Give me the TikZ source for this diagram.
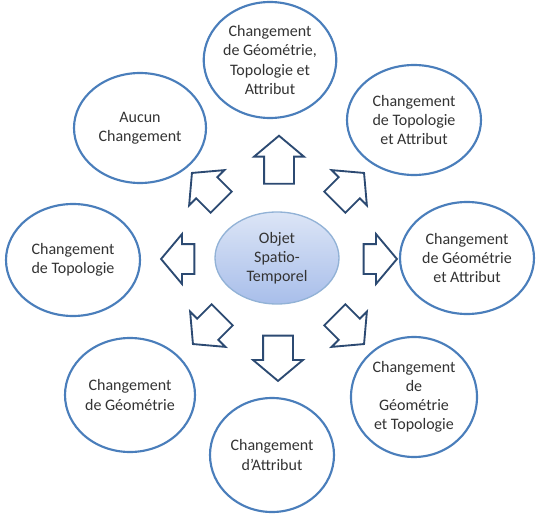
\documentclass[tikz,border=0pt]{standalone}
\usepackage{fontspec}
\setmainfont{Carlito}
\usetikzlibrary{shapes.geometric,shapes.arrows}
\definecolor{bord}{HTML}{4A7EBB}
\definecolor{contour}{HTML}{2C4A72}
\definecolor{texte}{HTML}{333333}
\definecolor{haut}{HTML}{DCE5F6}
\definecolor{bas}{HTML}{A8BEEA}

\begin{document}
\begin{tikzpicture}[x=0.75pt,y=-0.75pt,
  etat/.style={draw=bord,line width=1.6pt,shape=ellipse,fill=white,inner sep=0pt,
    align=center,text=texte,font=\fontsize{12}{14.3}\selectfont},
  bloc/.style={draw=contour,line width=1.4pt,fill=white,shape=single arrow,
    inner xsep=0pt,inner ysep=10.5pt,single arrow head extend=7.5pt,
    single arrow tip angle=100,minimum height=#1}]

  \useasboundingbox (0,0) rectangle (536,514);

  % Objet central
  \node[etat,draw=bord!60,line width=1pt,top color=haut,bottom color=bas,
    minimum width=93pt,minimum height=69pt] (objet) at (277,258)
    {Objet\\Spatio-\\Temporel};

  % Etats autour
  \node[etat,minimum width=97.5pt,minimum height=87pt] (cgta) at (270,60)
    {Changement\\de Géométrie,\\Topologie et\\Attribut};
  \node[etat,minimum width=100.5pt,minimum height=82.5pt] (cta) at (414,120)
    {Changement\\de Topologie\\et Attribut};
  \node[etat,minimum width=100.5pt,minimum height=84pt] (cga) at (467,258)
    {Changement\\de Géométrie\\et Attribut};
  \node[etat,minimum width=94.5pt,minimum height=90pt] (cgt) at (414,397)
    {Changement\\de\\Géométrie\\et Topologie};
  \node[etat,minimum width=93pt,minimum height=85.5pt] (ca) at (272,455)
    {Changement\\d’Attribut};
  \node[etat,minimum width=97.5pt,minimum height=85.5pt] (cg) at (130,395)
    {Changement\\de Géométrie};
  \node[etat,minimum width=100.5pt,minimum height=84pt] (ct) at (73,260)
    {Changement\\de Topologie};
  \node[etat,minimum width=99pt,minimum height=82.5pt] (aucun) at (140,128)
    {Aucun\\Changement};

  % Fleches
  \node[bloc=36pt,rotate=90] (f1) at (279,166) {};
  \node[bloc=31pt,rotate=45] (f2) at (345,192) {};
  \node[bloc=25pt,rotate=0] (f3) at (374,259) {};
  \node[bloc=31pt,rotate=-45] (f4) at (345,325) {};
  \node[bloc=34pt,rotate=-90] (f5) at (278,352) {};
  \node[bloc=31pt,rotate=-135] (f6) at (212,325) {};
  \node[bloc=25pt,rotate=180] (f7) at (184,259) {};
  \node[bloc=31pt,rotate=135] (f8) at (211,192) {};

\end{tikzpicture}
\end{document}
